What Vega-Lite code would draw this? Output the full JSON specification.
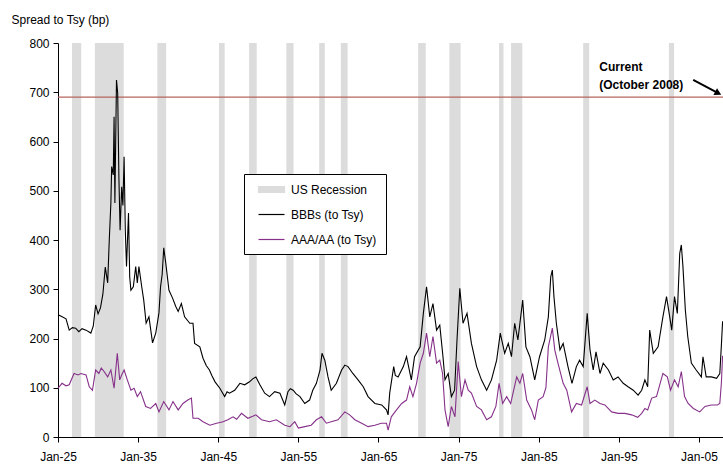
{
 "$schema": "https://vega.github.io/schema/vega-lite/v6.json",
 "width": 665,
 "height": 394,
 "autosize": {"type": "none"},
 "padding": {"left": 58, "top": 43, "right": 0, "bottom": 31},
 "background": "white",
 "config": {"view": {"stroke": null}, "font": "Liberation Sans"},
 "datasets": {
  "recessions": [
   {"start": 1926.75, "end": 1927.9, "series": "US Recession"},
   {"start": 1929.6, "end": 1933.2, "series": "US Recession"},
   {"start": 1937.4, "end": 1938.5, "series": "US Recession"},
   {"start": 1945.1, "end": 1945.8, "series": "US Recession"},
   {"start": 1948.85, "end": 1949.8, "series": "US Recession"},
   {"start": 1953.5, "end": 1954.4, "series": "US Recession"},
   {"start": 1957.6, "end": 1958.3, "series": "US Recession"},
   {"start": 1960.3, "end": 1961.15, "series": "US Recession"},
   {"start": 1969.95, "end": 1970.9, "series": "US Recession"},
   {"start": 1973.85, "end": 1975.25, "series": "US Recession"},
   {"start": 1980.05, "end": 1980.6, "series": "US Recession"},
   {"start": 1981.55, "end": 1982.95, "series": "US Recession"},
   {"start": 1990.55, "end": 1991.3, "series": "US Recession"},
   {"start": 2001.25, "end": 2001.9, "series": "US Recession"}
  ],
  "spreads": [
   {"year": 1925.0, "spread": 248, "series": "BBBs (to Tsy)"},
   {"year": 1925.4, "spread": 245, "series": "BBBs (to Tsy)"},
   {"year": 1926.0, "spread": 240, "series": "BBBs (to Tsy)"},
   {"year": 1926.4, "spread": 217, "series": "BBBs (to Tsy)"},
   {"year": 1926.8, "spread": 222, "series": "BBBs (to Tsy)"},
   {"year": 1927.2, "spread": 221, "series": "BBBs (to Tsy)"},
   {"year": 1927.6, "spread": 214, "series": "BBBs (to Tsy)"},
   {"year": 1928.0, "spread": 220, "series": "BBBs (to Tsy)"},
   {"year": 1928.5, "spread": 217, "series": "BBBs (to Tsy)"},
   {"year": 1929.1, "spread": 211, "series": "BBBs (to Tsy)"},
   {"year": 1929.4, "spread": 225, "series": "BBBs (to Tsy)"},
   {"year": 1929.7, "spread": 268, "series": "BBBs (to Tsy)"},
   {"year": 1930.0, "spread": 250, "series": "BBBs (to Tsy)"},
   {"year": 1930.3, "spread": 262, "series": "BBBs (to Tsy)"},
   {"year": 1930.6, "spread": 290, "series": "BBBs (to Tsy)"},
   {"year": 1930.9, "spread": 345, "series": "BBBs (to Tsy)"},
   {"year": 1931.2, "spread": 313, "series": "BBBs (to Tsy)"},
   {"year": 1931.4, "spread": 400, "series": "BBBs (to Tsy)"},
   {"year": 1931.6, "spread": 475, "series": "BBBs (to Tsy)"},
   {"year": 1931.7, "spread": 549, "series": "BBBs (to Tsy)"},
   {"year": 1931.9, "spread": 532, "series": "BBBs (to Tsy)"},
   {"year": 1932.0, "spread": 650, "series": "BBBs (to Tsy)"},
   {"year": 1932.1, "spread": 475, "series": "BBBs (to Tsy)"},
   {"year": 1932.3, "spread": 725, "series": "BBBs (to Tsy)"},
   {"year": 1932.45, "spread": 698, "series": "BBBs (to Tsy)"},
   {"year": 1932.6, "spread": 528, "series": "BBBs (to Tsy)"},
   {"year": 1932.75, "spread": 420, "series": "BBBs (to Tsy)"},
   {"year": 1932.95, "spread": 508, "series": "BBBs (to Tsy)"},
   {"year": 1933.1, "spread": 470, "series": "BBBs (to Tsy)"},
   {"year": 1933.25, "spread": 569, "series": "BBBs (to Tsy)"},
   {"year": 1933.4, "spread": 420, "series": "BBBs (to Tsy)"},
   {"year": 1933.55, "spread": 346, "series": "BBBs (to Tsy)"},
   {"year": 1933.8, "spread": 455, "series": "BBBs (to Tsy)"},
   {"year": 1933.95, "spread": 325, "series": "BBBs (to Tsy)"},
   {"year": 1934.1, "spread": 298, "series": "BBBs (to Tsy)"},
   {"year": 1934.4, "spread": 305, "series": "BBBs (to Tsy)"},
   {"year": 1934.7, "spread": 346, "series": "BBBs (to Tsy)"},
   {"year": 1934.9, "spread": 313, "series": "BBBs (to Tsy)"},
   {"year": 1935.1, "spread": 346, "series": "BBBs (to Tsy)"},
   {"year": 1935.45, "spread": 305, "series": "BBBs (to Tsy)"},
   {"year": 1935.7, "spread": 278, "series": "BBBs (to Tsy)"},
   {"year": 1936.0, "spread": 231, "series": "BBBs (to Tsy)"},
   {"year": 1936.35, "spread": 244, "series": "BBBs (to Tsy)"},
   {"year": 1936.8, "spread": 191, "series": "BBBs (to Tsy)"},
   {"year": 1937.2, "spread": 211, "series": "BBBs (to Tsy)"},
   {"year": 1937.6, "spread": 252, "series": "BBBs (to Tsy)"},
   {"year": 1937.8, "spread": 305, "series": "BBBs (to Tsy)"},
   {"year": 1938.0, "spread": 330, "series": "BBBs (to Tsy)"},
   {"year": 1938.2, "spread": 384, "series": "BBBs (to Tsy)"},
   {"year": 1938.45, "spread": 353, "series": "BBBs (to Tsy)"},
   {"year": 1938.85, "spread": 298, "series": "BBBs (to Tsy)"},
   {"year": 1939.3, "spread": 282, "series": "BBBs (to Tsy)"},
   {"year": 1939.7, "spread": 265, "series": "BBBs (to Tsy)"},
   {"year": 1940.0, "spread": 255, "series": "BBBs (to Tsy)"},
   {"year": 1940.4, "spread": 271, "series": "BBBs (to Tsy)"},
   {"year": 1940.8, "spread": 244, "series": "BBBs (to Tsy)"},
   {"year": 1941.45, "spread": 231, "series": "BBBs (to Tsy)"},
   {"year": 1941.85, "spread": 231, "series": "BBBs (to Tsy)"},
   {"year": 1942.05, "spread": 190, "series": "BBBs (to Tsy)"},
   {"year": 1942.7, "spread": 183, "series": "BBBs (to Tsy)"},
   {"year": 1943.1, "spread": 160, "series": "BBBs (to Tsy)"},
   {"year": 1943.5, "spread": 145, "series": "BBBs (to Tsy)"},
   {"year": 1943.9, "spread": 136, "series": "BBBs (to Tsy)"},
   {"year": 1944.2, "spread": 125, "series": "BBBs (to Tsy)"},
   {"year": 1944.6, "spread": 112, "series": "BBBs (to Tsy)"},
   {"year": 1945.2, "spread": 99, "series": "BBBs (to Tsy)"},
   {"year": 1945.8, "spread": 82, "series": "BBBs (to Tsy)"},
   {"year": 1946.1, "spread": 92, "series": "BBBs (to Tsy)"},
   {"year": 1946.4, "spread": 89, "series": "BBBs (to Tsy)"},
   {"year": 1947.05, "spread": 95, "series": "BBBs (to Tsy)"},
   {"year": 1947.7, "spread": 109, "series": "BBBs (to Tsy)"},
   {"year": 1948.3, "spread": 106, "series": "BBBs (to Tsy)"},
   {"year": 1948.9, "spread": 112, "series": "BBBs (to Tsy)"},
   {"year": 1949.3, "spread": 118, "series": "BBBs (to Tsy)"},
   {"year": 1949.7, "spread": 122, "series": "BBBs (to Tsy)"},
   {"year": 1950.2, "spread": 106, "series": "BBBs (to Tsy)"},
   {"year": 1950.8, "spread": 89, "series": "BBBs (to Tsy)"},
   {"year": 1951.4, "spread": 82, "series": "BBBs (to Tsy)"},
   {"year": 1952.05, "spread": 92, "series": "BBBs (to Tsy)"},
   {"year": 1952.7, "spread": 89, "series": "BBBs (to Tsy)"},
   {"year": 1953.3, "spread": 65, "series": "BBBs (to Tsy)"},
   {"year": 1953.7, "spread": 92, "series": "BBBs (to Tsy)"},
   {"year": 1954.0, "spread": 98, "series": "BBBs (to Tsy)"},
   {"year": 1954.35, "spread": 95, "series": "BBBs (to Tsy)"},
   {"year": 1954.7, "spread": 88, "series": "BBBs (to Tsy)"},
   {"year": 1955.2, "spread": 82, "series": "BBBs (to Tsy)"},
   {"year": 1955.8, "spread": 68, "series": "BBBs (to Tsy)"},
   {"year": 1956.4, "spread": 75, "series": "BBBs (to Tsy)"},
   {"year": 1956.8, "spread": 95, "series": "BBBs (to Tsy)"},
   {"year": 1957.25, "spread": 109, "series": "BBBs (to Tsy)"},
   {"year": 1957.7, "spread": 136, "series": "BBBs (to Tsy)"},
   {"year": 1957.95, "spread": 170, "series": "BBBs (to Tsy)"},
   {"year": 1958.3, "spread": 156, "series": "BBBs (to Tsy)"},
   {"year": 1958.7, "spread": 122, "series": "BBBs (to Tsy)"},
   {"year": 1959.1, "spread": 95, "series": "BBBs (to Tsy)"},
   {"year": 1959.75, "spread": 109, "series": "BBBs (to Tsy)"},
   {"year": 1960.4, "spread": 136, "series": "BBBs (to Tsy)"},
   {"year": 1960.8, "spread": 146, "series": "BBBs (to Tsy)"},
   {"year": 1961.2, "spread": 143, "series": "BBBs (to Tsy)"},
   {"year": 1961.8, "spread": 129, "series": "BBBs (to Tsy)"},
   {"year": 1962.45, "spread": 116, "series": "BBBs (to Tsy)"},
   {"year": 1963.1, "spread": 102, "series": "BBBs (to Tsy)"},
   {"year": 1963.7, "spread": 82, "series": "BBBs (to Tsy)"},
   {"year": 1964.55, "spread": 68, "series": "BBBs (to Tsy)"},
   {"year": 1965.4, "spread": 65, "series": "BBBs (to Tsy)"},
   {"year": 1966.0, "spread": 55, "series": "BBBs (to Tsy)"},
   {"year": 1966.2, "spread": 45, "series": "BBBs (to Tsy)"},
   {"year": 1966.4, "spread": 89, "series": "BBBs (to Tsy)"},
   {"year": 1966.9, "spread": 143, "series": "BBBs (to Tsy)"},
   {"year": 1967.1, "spread": 125, "series": "BBBs (to Tsy)"},
   {"year": 1967.45, "spread": 122, "series": "BBBs (to Tsy)"},
   {"year": 1968.1, "spread": 143, "series": "BBBs (to Tsy)"},
   {"year": 1968.5, "spread": 163, "series": "BBBs (to Tsy)"},
   {"year": 1969.1, "spread": 116, "series": "BBBs (to Tsy)"},
   {"year": 1969.5, "spread": 163, "series": "BBBs (to Tsy)"},
   {"year": 1970.2, "spread": 183, "series": "BBBs (to Tsy)"},
   {"year": 1970.6, "spread": 251, "series": "BBBs (to Tsy)"},
   {"year": 1971.0, "spread": 305, "series": "BBBs (to Tsy)"},
   {"year": 1971.4, "spread": 244, "series": "BBBs (to Tsy)"},
   {"year": 1971.8, "spread": 271, "series": "BBBs (to Tsy)"},
   {"year": 1972.25, "spread": 217, "series": "BBBs (to Tsy)"},
   {"year": 1972.65, "spread": 227, "series": "BBBs (to Tsy)"},
   {"year": 1973.05, "spread": 163, "series": "BBBs (to Tsy)"},
   {"year": 1973.3, "spread": 116, "series": "BBBs (to Tsy)"},
   {"year": 1973.7, "spread": 129, "series": "BBBs (to Tsy)"},
   {"year": 1974.1, "spread": 82, "series": "BBBs (to Tsy)"},
   {"year": 1974.5, "spread": 95, "series": "BBBs (to Tsy)"},
   {"year": 1974.8, "spread": 197, "series": "BBBs (to Tsy)"},
   {"year": 1975.15, "spread": 302, "series": "BBBs (to Tsy)"},
   {"year": 1975.55, "spread": 231, "series": "BBBs (to Tsy)"},
   {"year": 1976.05, "spread": 251, "series": "BBBs (to Tsy)"},
   {"year": 1976.6, "spread": 190, "series": "BBBs (to Tsy)"},
   {"year": 1977.25, "spread": 143, "series": "BBBs (to Tsy)"},
   {"year": 1977.85, "spread": 116, "series": "BBBs (to Tsy)"},
   {"year": 1978.5, "spread": 95, "series": "BBBs (to Tsy)"},
   {"year": 1979.1, "spread": 116, "series": "BBBs (to Tsy)"},
   {"year": 1979.75, "spread": 156, "series": "BBBs (to Tsy)"},
   {"year": 1980.2, "spread": 211, "series": "BBBs (to Tsy)"},
   {"year": 1980.75, "spread": 170, "series": "BBBs (to Tsy)"},
   {"year": 1981.2, "spread": 190, "series": "BBBs (to Tsy)"},
   {"year": 1981.6, "spread": 163, "series": "BBBs (to Tsy)"},
   {"year": 1982.0, "spread": 231, "series": "BBBs (to Tsy)"},
   {"year": 1982.4, "spread": 197, "series": "BBBs (to Tsy)"},
   {"year": 1983.0, "spread": 278, "series": "BBBs (to Tsy)"},
   {"year": 1983.4, "spread": 183, "series": "BBBs (to Tsy)"},
   {"year": 1983.9, "spread": 163, "series": "BBBs (to Tsy)"},
   {"year": 1984.5, "spread": 116, "series": "BBBs (to Tsy)"},
   {"year": 1985.1, "spread": 163, "series": "BBBs (to Tsy)"},
   {"year": 1985.75, "spread": 197, "series": "BBBs (to Tsy)"},
   {"year": 1986.2, "spread": 244, "series": "BBBs (to Tsy)"},
   {"year": 1986.5, "spread": 325, "series": "BBBs (to Tsy)"},
   {"year": 1986.7, "spread": 339, "series": "BBBs (to Tsy)"},
   {"year": 1986.9, "spread": 285, "series": "BBBs (to Tsy)"},
   {"year": 1987.2, "spread": 231, "series": "BBBs (to Tsy)"},
   {"year": 1987.65, "spread": 177, "series": "BBBs (to Tsy)"},
   {"year": 1988.05, "spread": 190, "series": "BBBs (to Tsy)"},
   {"year": 1988.65, "spread": 143, "series": "BBBs (to Tsy)"},
   {"year": 1989.15, "spread": 109, "series": "BBBs (to Tsy)"},
   {"year": 1989.7, "spread": 143, "series": "BBBs (to Tsy)"},
   {"year": 1990.1, "spread": 156, "series": "BBBs (to Tsy)"},
   {"year": 1990.55, "spread": 143, "series": "BBBs (to Tsy)"},
   {"year": 1991.05, "spread": 251, "series": "BBBs (to Tsy)"},
   {"year": 1991.4, "spread": 177, "series": "BBBs (to Tsy)"},
   {"year": 1991.8, "spread": 136, "series": "BBBs (to Tsy)"},
   {"year": 1992.15, "spread": 173, "series": "BBBs (to Tsy)"},
   {"year": 1992.65, "spread": 129, "series": "BBBs (to Tsy)"},
   {"year": 1993.05, "spread": 150, "series": "BBBs (to Tsy)"},
   {"year": 1993.7, "spread": 136, "series": "BBBs (to Tsy)"},
   {"year": 1994.3, "spread": 116, "series": "BBBs (to Tsy)"},
   {"year": 1994.9, "spread": 122, "series": "BBBs (to Tsy)"},
   {"year": 1995.55, "spread": 109, "series": "BBBs (to Tsy)"},
   {"year": 1996.15, "spread": 102, "series": "BBBs (to Tsy)"},
   {"year": 1996.8, "spread": 95, "series": "BBBs (to Tsy)"},
   {"year": 1997.4, "spread": 85, "series": "BBBs (to Tsy)"},
   {"year": 1997.85, "spread": 95, "series": "BBBs (to Tsy)"},
   {"year": 1998.25, "spread": 116, "series": "BBBs (to Tsy)"},
   {"year": 1998.6, "spread": 102, "series": "BBBs (to Tsy)"},
   {"year": 1998.85, "spread": 217, "series": "BBBs (to Tsy)"},
   {"year": 1999.3, "spread": 170, "series": "BBBs (to Tsy)"},
   {"year": 1999.9, "spread": 183, "series": "BBBs (to Tsy)"},
   {"year": 2000.5, "spread": 244, "series": "BBBs (to Tsy)"},
   {"year": 2000.95, "spread": 285, "series": "BBBs (to Tsy)"},
   {"year": 2001.35, "spread": 244, "series": "BBBs (to Tsy)"},
   {"year": 2001.6, "spread": 217, "series": "BBBs (to Tsy)"},
   {"year": 2001.95, "spread": 285, "series": "BBBs (to Tsy)"},
   {"year": 2002.3, "spread": 251, "series": "BBBs (to Tsy)"},
   {"year": 2002.6, "spread": 373, "series": "BBBs (to Tsy)"},
   {"year": 2002.8, "spread": 390, "series": "BBBs (to Tsy)"},
   {"year": 2003.0, "spread": 346, "series": "BBBs (to Tsy)"},
   {"year": 2003.3, "spread": 258, "series": "BBBs (to Tsy)"},
   {"year": 2003.6, "spread": 204, "series": "BBBs (to Tsy)"},
   {"year": 2004.05, "spread": 150, "series": "BBBs (to Tsy)"},
   {"year": 2004.65, "spread": 136, "series": "BBBs (to Tsy)"},
   {"year": 2005.3, "spread": 122, "series": "BBBs (to Tsy)"},
   {"year": 2005.5, "spread": 163, "series": "BBBs (to Tsy)"},
   {"year": 2005.9, "spread": 122, "series": "BBBs (to Tsy)"},
   {"year": 2006.55, "spread": 122, "series": "BBBs (to Tsy)"},
   {"year": 2007.2, "spread": 119, "series": "BBBs (to Tsy)"},
   {"year": 2007.6, "spread": 129, "series": "BBBs (to Tsy)"},
   {"year": 2007.8, "spread": 187, "series": "BBBs (to Tsy)"},
   {"year": 2007.95, "spread": 235, "series": "BBBs (to Tsy)"},
   {"year": 1925.0, "spread": 99, "series": "AAA/AA (to Tsy)"},
   {"year": 1925.5, "spread": 109, "series": "AAA/AA (to Tsy)"},
   {"year": 1926.0, "spread": 104, "series": "AAA/AA (to Tsy)"},
   {"year": 1926.4, "spread": 106, "series": "AAA/AA (to Tsy)"},
   {"year": 1927.0, "spread": 129, "series": "AAA/AA (to Tsy)"},
   {"year": 1927.5, "spread": 126, "series": "AAA/AA (to Tsy)"},
   {"year": 1927.85, "spread": 129, "series": "AAA/AA (to Tsy)"},
   {"year": 1928.5, "spread": 126, "series": "AAA/AA (to Tsy)"},
   {"year": 1928.9, "spread": 102, "series": "AAA/AA (to Tsy)"},
   {"year": 1929.3, "spread": 95, "series": "AAA/AA (to Tsy)"},
   {"year": 1929.7, "spread": 136, "series": "AAA/AA (to Tsy)"},
   {"year": 1930.1, "spread": 129, "series": "AAA/AA (to Tsy)"},
   {"year": 1930.4, "spread": 140, "series": "AAA/AA (to Tsy)"},
   {"year": 1930.75, "spread": 133, "series": "AAA/AA (to Tsy)"},
   {"year": 1931.2, "spread": 122, "series": "AAA/AA (to Tsy)"},
   {"year": 1931.6, "spread": 136, "series": "AAA/AA (to Tsy)"},
   {"year": 1932.0, "spread": 99, "series": "AAA/AA (to Tsy)"},
   {"year": 1932.4, "spread": 170, "series": "AAA/AA (to Tsy)"},
   {"year": 1932.7, "spread": 116, "series": "AAA/AA (to Tsy)"},
   {"year": 1933.0, "spread": 128, "series": "AAA/AA (to Tsy)"},
   {"year": 1933.25, "spread": 136, "series": "AAA/AA (to Tsy)"},
   {"year": 1933.65, "spread": 116, "series": "AAA/AA (to Tsy)"},
   {"year": 1934.1, "spread": 95, "series": "AAA/AA (to Tsy)"},
   {"year": 1934.5, "spread": 99, "series": "AAA/AA (to Tsy)"},
   {"year": 1934.9, "spread": 82, "series": "AAA/AA (to Tsy)"},
   {"year": 1935.3, "spread": 92, "series": "AAA/AA (to Tsy)"},
   {"year": 1935.95, "spread": 62, "series": "AAA/AA (to Tsy)"},
   {"year": 1936.55, "spread": 58, "series": "AAA/AA (to Tsy)"},
   {"year": 1937.2, "spread": 68, "series": "AAA/AA (to Tsy)"},
   {"year": 1937.6, "spread": 51, "series": "AAA/AA (to Tsy)"},
   {"year": 1938.2, "spread": 72, "series": "AAA/AA (to Tsy)"},
   {"year": 1938.85, "spread": 55, "series": "AAA/AA (to Tsy)"},
   {"year": 1939.35, "spread": 72, "series": "AAA/AA (to Tsy)"},
   {"year": 1940.0, "spread": 55, "series": "AAA/AA (to Tsy)"},
   {"year": 1940.6, "spread": 68, "series": "AAA/AA (to Tsy)"},
   {"year": 1941.2, "spread": 75, "series": "AAA/AA (to Tsy)"},
   {"year": 1941.65, "spread": 79, "series": "AAA/AA (to Tsy)"},
   {"year": 1941.85, "spread": 38, "series": "AAA/AA (to Tsy)"},
   {"year": 1942.5, "spread": 38, "series": "AAA/AA (to Tsy)"},
   {"year": 1943.1, "spread": 31, "series": "AAA/AA (to Tsy)"},
   {"year": 1943.95, "spread": 24, "series": "AAA/AA (to Tsy)"},
   {"year": 1944.8, "spread": 28, "series": "AAA/AA (to Tsy)"},
   {"year": 1945.6, "spread": 31, "series": "AAA/AA (to Tsy)"},
   {"year": 1946.2, "spread": 35, "series": "AAA/AA (to Tsy)"},
   {"year": 1946.85, "spread": 41, "series": "AAA/AA (to Tsy)"},
   {"year": 1947.3, "spread": 36, "series": "AAA/AA (to Tsy)"},
   {"year": 1947.9, "spread": 48, "series": "AAA/AA (to Tsy)"},
   {"year": 1948.7, "spread": 38, "series": "AAA/AA (to Tsy)"},
   {"year": 1949.3, "spread": 42, "series": "AAA/AA (to Tsy)"},
   {"year": 1949.7, "spread": 45, "series": "AAA/AA (to Tsy)"},
   {"year": 1950.4, "spread": 35, "series": "AAA/AA (to Tsy)"},
   {"year": 1951.4, "spread": 31, "series": "AAA/AA (to Tsy)"},
   {"year": 1952.25, "spread": 35, "series": "AAA/AA (to Tsy)"},
   {"year": 1953.3, "spread": 24, "series": "AAA/AA (to Tsy)"},
   {"year": 1953.95, "spread": 21, "series": "AAA/AA (to Tsy)"},
   {"year": 1954.55, "spread": 31, "series": "AAA/AA (to Tsy)"},
   {"year": 1955.0, "spread": 18, "series": "AAA/AA (to Tsy)"},
   {"year": 1955.8, "spread": 21, "series": "AAA/AA (to Tsy)"},
   {"year": 1956.6, "spread": 24, "series": "AAA/AA (to Tsy)"},
   {"year": 1957.25, "spread": 35, "series": "AAA/AA (to Tsy)"},
   {"year": 1957.9, "spread": 41, "series": "AAA/AA (to Tsy)"},
   {"year": 1958.5, "spread": 28, "series": "AAA/AA (to Tsy)"},
   {"year": 1959.1, "spread": 31, "series": "AAA/AA (to Tsy)"},
   {"year": 1959.95, "spread": 35, "series": "AAA/AA (to Tsy)"},
   {"year": 1960.8, "spread": 51, "series": "AAA/AA (to Tsy)"},
   {"year": 1961.4, "spread": 45, "series": "AAA/AA (to Tsy)"},
   {"year": 1962.05, "spread": 35, "series": "AAA/AA (to Tsy)"},
   {"year": 1962.9, "spread": 28, "series": "AAA/AA (to Tsy)"},
   {"year": 1963.7, "spread": 21, "series": "AAA/AA (to Tsy)"},
   {"year": 1964.55, "spread": 24, "series": "AAA/AA (to Tsy)"},
   {"year": 1965.35, "spread": 28, "series": "AAA/AA (to Tsy)"},
   {"year": 1966.0, "spread": 28, "series": "AAA/AA (to Tsy)"},
   {"year": 1966.2, "spread": 14, "series": "AAA/AA (to Tsy)"},
   {"year": 1966.6, "spread": 41, "series": "AAA/AA (to Tsy)"},
   {"year": 1967.25, "spread": 55, "series": "AAA/AA (to Tsy)"},
   {"year": 1967.9, "spread": 68, "series": "AAA/AA (to Tsy)"},
   {"year": 1968.5, "spread": 75, "series": "AAA/AA (to Tsy)"},
   {"year": 1968.9, "spread": 102, "series": "AAA/AA (to Tsy)"},
   {"year": 1969.3, "spread": 82, "series": "AAA/AA (to Tsy)"},
   {"year": 1969.75, "spread": 109, "series": "AAA/AA (to Tsy)"},
   {"year": 1970.2, "spread": 150, "series": "AAA/AA (to Tsy)"},
   {"year": 1970.6, "spread": 170, "series": "AAA/AA (to Tsy)"},
   {"year": 1971.0, "spread": 211, "series": "AAA/AA (to Tsy)"},
   {"year": 1971.4, "spread": 163, "series": "AAA/AA (to Tsy)"},
   {"year": 1971.8, "spread": 204, "series": "AAA/AA (to Tsy)"},
   {"year": 1972.25, "spread": 150, "series": "AAA/AA (to Tsy)"},
   {"year": 1972.65, "spread": 156, "series": "AAA/AA (to Tsy)"},
   {"year": 1973.0, "spread": 129, "series": "AAA/AA (to Tsy)"},
   {"year": 1973.3, "spread": 55, "series": "AAA/AA (to Tsy)"},
   {"year": 1973.7, "spread": 21, "series": "AAA/AA (to Tsy)"},
   {"year": 1974.1, "spread": 62, "series": "AAA/AA (to Tsy)"},
   {"year": 1974.55, "spread": 41, "series": "AAA/AA (to Tsy)"},
   {"year": 1974.95, "spread": 153, "series": "AAA/AA (to Tsy)"},
   {"year": 1975.35, "spread": 82, "series": "AAA/AA (to Tsy)"},
   {"year": 1975.8, "spread": 116, "series": "AAA/AA (to Tsy)"},
   {"year": 1976.2, "spread": 95, "series": "AAA/AA (to Tsy)"},
   {"year": 1976.6, "spread": 89, "series": "AAA/AA (to Tsy)"},
   {"year": 1977.25, "spread": 62, "series": "AAA/AA (to Tsy)"},
   {"year": 1977.85, "spread": 55, "series": "AAA/AA (to Tsy)"},
   {"year": 1978.5, "spread": 35, "series": "AAA/AA (to Tsy)"},
   {"year": 1979.1, "spread": 41, "series": "AAA/AA (to Tsy)"},
   {"year": 1979.65, "spread": 62, "series": "AAA/AA (to Tsy)"},
   {"year": 1980.05, "spread": 109, "series": "AAA/AA (to Tsy)"},
   {"year": 1980.5, "spread": 68, "series": "AAA/AA (to Tsy)"},
   {"year": 1981.0, "spread": 82, "series": "AAA/AA (to Tsy)"},
   {"year": 1981.5, "spread": 68, "series": "AAA/AA (to Tsy)"},
   {"year": 1982.25, "spread": 122, "series": "AAA/AA (to Tsy)"},
   {"year": 1982.65, "spread": 109, "series": "AAA/AA (to Tsy)"},
   {"year": 1983.0, "spread": 129, "series": "AAA/AA (to Tsy)"},
   {"year": 1983.5, "spread": 75, "series": "AAA/AA (to Tsy)"},
   {"year": 1984.1, "spread": 55, "series": "AAA/AA (to Tsy)"},
   {"year": 1984.5, "spread": 35, "series": "AAA/AA (to Tsy)"},
   {"year": 1984.95, "spread": 75, "series": "AAA/AA (to Tsy)"},
   {"year": 1985.55, "spread": 82, "series": "AAA/AA (to Tsy)"},
   {"year": 1985.9, "spread": 100, "series": "AAA/AA (to Tsy)"},
   {"year": 1986.2, "spread": 183, "series": "AAA/AA (to Tsy)"},
   {"year": 1986.7, "spread": 221, "series": "AAA/AA (to Tsy)"},
   {"year": 1987.0, "spread": 177, "series": "AAA/AA (to Tsy)"},
   {"year": 1987.4, "spread": 150, "series": "AAA/AA (to Tsy)"},
   {"year": 1988.05, "spread": 109, "series": "AAA/AA (to Tsy)"},
   {"year": 1988.5, "spread": 95, "series": "AAA/AA (to Tsy)"},
   {"year": 1989.1, "spread": 51, "series": "AAA/AA (to Tsy)"},
   {"year": 1989.7, "spread": 68, "series": "AAA/AA (to Tsy)"},
   {"year": 1990.35, "spread": 65, "series": "AAA/AA (to Tsy)"},
   {"year": 1991.05, "spread": 102, "series": "AAA/AA (to Tsy)"},
   {"year": 1991.4, "spread": 68, "series": "AAA/AA (to Tsy)"},
   {"year": 1992.0, "spread": 75, "series": "AAA/AA (to Tsy)"},
   {"year": 1992.65, "spread": 68, "series": "AAA/AA (to Tsy)"},
   {"year": 1993.25, "spread": 65, "series": "AAA/AA (to Tsy)"},
   {"year": 1994.1, "spread": 51, "series": "AAA/AA (to Tsy)"},
   {"year": 1994.9, "spread": 48, "series": "AAA/AA (to Tsy)"},
   {"year": 1995.75, "spread": 48, "series": "AAA/AA (to Tsy)"},
   {"year": 1996.6, "spread": 45, "series": "AAA/AA (to Tsy)"},
   {"year": 1997.35, "spread": 40, "series": "AAA/AA (to Tsy)"},
   {"year": 1997.85, "spread": 48, "series": "AAA/AA (to Tsy)"},
   {"year": 1998.25, "spread": 58, "series": "AAA/AA (to Tsy)"},
   {"year": 1998.6, "spread": 55, "series": "AAA/AA (to Tsy)"},
   {"year": 1999.1, "spread": 79, "series": "AAA/AA (to Tsy)"},
   {"year": 1999.7, "spread": 82, "series": "AAA/AA (to Tsy)"},
   {"year": 2000.5, "spread": 129, "series": "AAA/AA (to Tsy)"},
   {"year": 2001.05, "spread": 122, "series": "AAA/AA (to Tsy)"},
   {"year": 2001.45, "spread": 95, "series": "AAA/AA (to Tsy)"},
   {"year": 2001.95, "spread": 116, "series": "AAA/AA (to Tsy)"},
   {"year": 2002.4, "spread": 102, "series": "AAA/AA (to Tsy)"},
   {"year": 2002.8, "spread": 133, "series": "AAA/AA (to Tsy)"},
   {"year": 2003.2, "spread": 82, "series": "AAA/AA (to Tsy)"},
   {"year": 2003.65, "spread": 68, "series": "AAA/AA (to Tsy)"},
   {"year": 2004.3, "spread": 58, "series": "AAA/AA (to Tsy)"},
   {"year": 2005.1, "spread": 51, "series": "AAA/AA (to Tsy)"},
   {"year": 2005.75, "spread": 62, "series": "AAA/AA (to Tsy)"},
   {"year": 2006.55, "spread": 65, "series": "AAA/AA (to Tsy)"},
   {"year": 2007.3, "spread": 65, "series": "AAA/AA (to Tsy)"},
   {"year": 2007.6, "spread": 68, "series": "AAA/AA (to Tsy)"},
   {"year": 2007.8, "spread": 110, "series": "AAA/AA (to Tsy)"},
   {"year": 2007.95, "spread": 165, "series": "AAA/AA (to Tsy)"}
  ],
  "notes": [
   {"year": 1992.55, "spread": 752, "label": "Current"},
   {"year": 1992.55, "spread": 714, "label": "(October 2008)"}
  ],
  "arrow": [
   {"year": 2004.28, "spread": 725, "year2": 2007.4, "spread2": 698}
  ],
  "arrowhead": [
   {"year": 2007.4, "spread": 698}
  ]
 },
 "layer": [
  {
   "data": {"name": "recessions"},
   "mark": {"type": "rect", "color": "#dcdcdc"},
   "encoding": {
    "x": {"field": "start", "type": "quantitative", "scale": {"domain": [1925, 2008], "nice": false, "zero": false},
     "axis": {"values": [1925, 1935, 1945, 1955, 1965, 1975, 1985, 1995, 2005], "labelExpr": "'Jan-' + substring(toString(datum.value), 2, 4)", "title": null, "grid": false, "domainColor": "#000000", "tickColor": "#000000", "tickSize": 5, "labelPadding": 9, "labelFontSize": 12, "labelColor": "#000000", "labelFont": "Liberation Sans", "labelFlush": false, "labelOverlap": false}},
    "x2": {"field": "end"},
    "color": {
     "field": "series", "type": "nominal",
     "scale": {"domain": ["US Recession", "BBBs (to Tsy)", "AAA/AA (to Tsy)"], "range": ["#dcdcdc", "#000000", "#86308a"]},
     "legend": {
      "orient": "none", "legendX": 186, "legendY": 131, "title": null,
      "strokeColor": "#000000", "fillColor": "#ffffff", "padding": 8,
      "symbolSize": 169, "symbolOffset": 12, "labelOffset": 12, "rowPadding": 11,
      "labelFontSize": 12, "labelColor": "#000000", "labelFont": "Liberation Sans", "labelLimit": 200,
      "encode": {
       "symbols": {
        "update": {
         "shape": {"signal": "datum.value === 'US Recession' ? 'M-2,-0.46H2V0.46H-2Z' : 'M-2,0H2'"},
         "fill": {"signal": "datum.value === 'US Recession' ? '#dcdcdc' : 'transparent'"},
         "stroke": {"signal": "datum.value === 'US Recession' ? 'transparent' : (datum.value === 'BBBs (to Tsy)' ? '#000000' : '#86308a')"},
         "strokeWidth": {"value": 1.2},
         "opacity": {"value": 1}
        }
       }
      }
     }
    }
   }
  },
  {
   "data": {"values": [{"level": 690}]},
   "mark": {"type": "rule", "color": "#b5655a", "strokeWidth": 1.3},
   "encoding": {
    "y": {"field": "level", "type": "quantitative", "scale": {"domain": [0, 800], "nice": false},
     "axis": {"values": [0, 100, 200, 300, 400, 500, 600, 700, 800], "title": "Spread to Tsy (bp)", "titleAngle": 0, "titleAlign": "left", "titleBaseline": "middle", "titleX": -47, "titleY": -24, "titleFontWeight": "normal", "titleFontSize": 12, "titleColor": "#000000", "titleFont": "Liberation Sans", "grid": false, "domainColor": "#000000", "tickColor": "#000000", "tickSize": 5, "labelPadding": 4, "labelFontSize": 12, "labelColor": "#000000", "labelFont": "Liberation Sans", "labelFlush": false, "labelOverlap": false}}
   }
  },
  {
   "data": {"name": "spreads"},
   "mark": {"type": "line", "strokeWidth": 1.1},
   "encoding": {
    "x": {"field": "year", "type": "quantitative"},
    "y": {"field": "spread", "type": "quantitative"},
    "color": {"field": "series", "type": "nominal"}
   }
  },
  {
   "data": {"name": "notes"},
   "mark": {"type": "text", "align": "left", "baseline": "middle", "fontWeight": "bold", "fontSize": 12, "font": "Liberation Sans", "color": "#000000"},
   "encoding": {
    "x": {"field": "year", "type": "quantitative"},
    "y": {"field": "spread", "type": "quantitative"},
    "text": {"field": "label"}
   }
  },
  {
   "data": {"name": "arrow"},
   "mark": {"type": "rule", "color": "#000000", "strokeWidth": 2},
   "encoding": {
    "x": {"field": "year", "type": "quantitative"},
    "y": {"field": "spread", "type": "quantitative"},
    "x2": {"field": "year2"},
    "y2": {"field": "spread2"}
   }
  },
  {
   "data": {"name": "arrowhead"},
   "mark": {"type": "point", "shape": "triangle-up", "filled": true, "color": "#000000", "size": 60, "angle": 118, "opacity": 1},
   "encoding": {
    "x": {"field": "year", "type": "quantitative"},
    "y": {"field": "spread", "type": "quantitative"}
   }
  }
 ]
}
